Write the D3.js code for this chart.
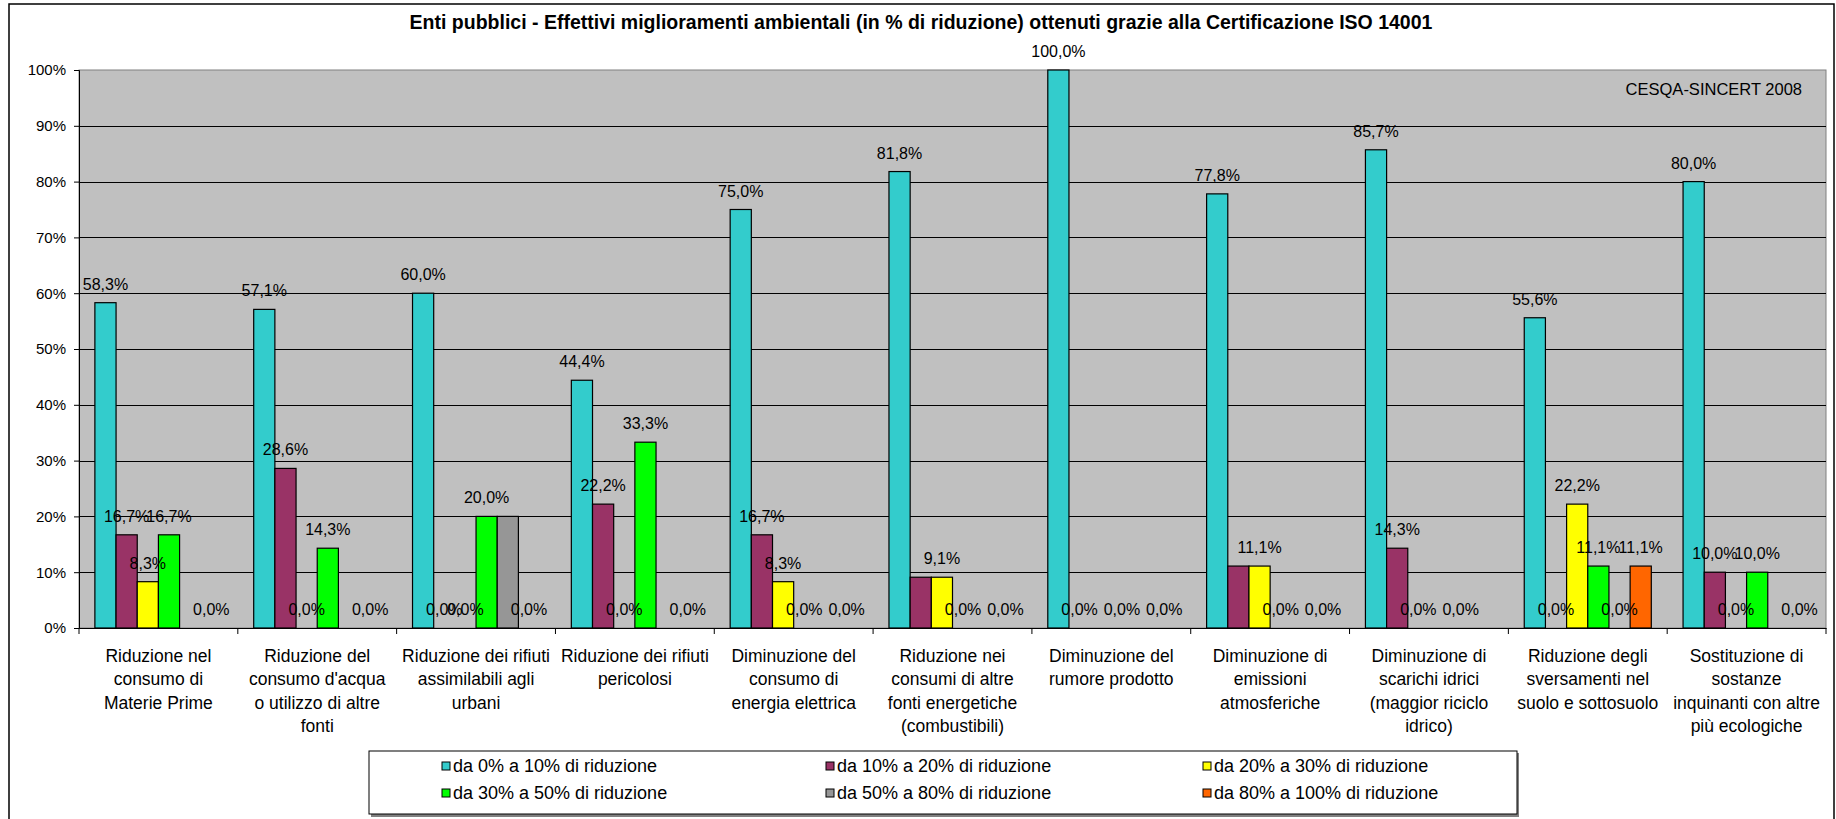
<!DOCTYPE html>
<html>
<head>
<meta charset="utf-8">
<script src="https://cdn.jsdelivr.net/npm/d3@7"></script>
<style>
  html, body { margin: 0; padding: 0; background: #fff; }
  #chart { width: 1836px; height: 819px; }
  text { font-family: "Liberation Sans", Arial, sans-serif; fill: #000; }
</style>
</head>
<body>
<div id="chart"></div>
<script>
// categories (already wrapped as in the original)
const categories = [
  ["Riduzione nel", "consumo di", "Materie Prime"],
  ["Riduzione del", "consumo d'acqua", "o utilizzo di altre", "fonti"],
  ["Riduzione dei rifiuti", "assimilabili agli", "urbani"],
  ["Riduzione dei rifiuti", "pericolosi"],
  ["Diminuzione del", "consumo di", "energia elettrica"],
  ["Riduzione nei", "consumi di altre", "fonti energetiche", "(combustibili)"],
  ["Diminuzione del", "rumore prodotto"],
  ["Diminuzione di", "emissioni", "atmosferiche"],
  ["Diminuzione di", "scarichi idrici", "(maggior riciclo", "idrico)"],
  ["Riduzione degli", "sversamenti nel", "suolo e sottosuolo"],
  ["Sostituzione di", "sostanze", "inquinanti con altre", "più ecologiche"]
];

const seriesNames = [
  "da 0% a 10% di riduzione",
  "da 10% a 20% di riduzione",
  "da 20% a 30% di riduzione",
  "da 30% a 50% di riduzione",
  "da 50% a 80% di riduzione",
  "da 80% a 100% di riduzione"
];
const seriesColors = ["#33CCCC", "#993366", "#FFFF00", "#00FF00", "#969696", "#FF6600"];

// values in %, null = no answer (no bar, no label)
const da0a10   = [58.3, 57.1, 60.0, 44.4, 75.0, 81.8, 100.0, 77.8, 85.7, 55.6, 80.0];
const da10a20  = [16.7, 28.6, 0, 22.2, 16.7, 9.1, 0, 11.1, 14.3, 0, 10.0];
const da20a30  = [8.3, 0, 0, 0, 8.3, 9.1, null, 11.1, 0, 22.2, 0];
const da30a50  = [16.7, 14.3, 20.0, 33.3, 0, 0, 0, 0, null, 11.1, 10.0];
const da50a80  = [null, null, 20.0, null, null, null, null, null, 0, 0, null];
const da80a100 = [0, 0, 0, 0, 0, 0, 0, 0, null, 11.1, 0];
const seriesValues = [da0a10, da10a20, da20a30, da30a50, da50a80, da80a100];

// bars drawn without a value label: [series, category]
const noLabel = [[1, 5], [1, 7], [4, 2]];

const yTicks = [0, 10, 20, 30, 40, 50, 60, 70, 80, 90, 100];

const titleText = "Enti pubblici - Effettivi miglioramenti ambientali (in % di riduzione) ottenuti grazie alla Certificazione ISO 14001";
const sourceText = "CESQA-SINCERT 2008";

/*
  CANVAS
*/
const width = 1836, height = 819;
const plot = {left: 79, right: 1826, top: 70, bottom: 628};

const svg = d3.select("#chart").append("svg")
    .attr("width", width)
    .attr("height", height);

// outer chart frame
svg.append("rect")
    .attr("x", 9).attr("y", 4)
    .attr("width", 1825).attr("height", 830)
    .attr("fill", "#fff")
    .attr("stroke", "#000")
    .attr("stroke-width", 1.5);

svg.append("text")
    .attr("x", 921).attr("y", 29)
    .attr("text-anchor", "middle")
    .style("font-weight", "bold")
    .style("font-size", "19.5px")
    .text(titleText);

/*
  SCALES
*/
const xScale = d3.scaleBand()
    .domain(d3.range(categories.length))
    .range([plot.left, plot.right])
    .paddingInner(0).paddingOuter(0);

const barW = xScale.bandwidth() / 7.5;   // gap width 150%
const xSub = d3.scaleBand()
    .domain(d3.range(seriesNames.length))
    .range([barW * 0.75, xScale.bandwidth() - barW * 0.75]);

const yScale = d3.scaleLinear()
    .domain([0, 100])
    .range([plot.bottom, plot.top]);

// plot background
svg.append("rect")
    .attr("x", plot.left).attr("y", plot.top)
    .attr("width", plot.right - plot.left)
    .attr("height", plot.bottom - plot.top)
    .attr("fill", "#C0C0C0")
    .attr("stroke", "#808080")
    .attr("stroke-width", 1);

// gridlines
svg.append("g")
    .selectAll("line")
    .data(yTicks.filter(d => d > 0 && d < 100))
    .enter().append("line")
    .attr("x1", plot.left).attr("x2", plot.right)
    .attr("y1", d => Math.round(yScale(d)) + 0.5)
    .attr("y2", d => Math.round(yScale(d)) + 0.5)
    .attr("stroke", "#000")
    .attr("stroke-width", 1);

svg.append("text")
    .attr("x", 1802).attr("y", 95)
    .attr("text-anchor", "end")
    .style("font-size", "16.5px")
    .text(sourceText);

/*
  AXES
*/
const yAxis = svg.append("g")
    .attr("transform", `translate(${plot.left},0)`)
    .call(d3.axisLeft(yScale).tickValues(yTicks).tickSize(5).tickPadding(8)
        .tickFormat(d => d + "%"));
yAxis.select(".domain").attr("stroke", "#000");
yAxis.selectAll("text").style("font-size", "15px").attr("font-family", null);

const xAxis = svg.append("g")
    .attr("transform", `translate(0,${plot.bottom})`)
    .call(d3.axisBottom(xScale).tickSize(0).tickFormat(""));
xAxis.select(".domain").attr("stroke", "#000");
xAxis.selectAll(".cat-tick")
    .data(d3.range(categories.length + 1))
    .enter().append("line")
    .attr("x1", i => i < categories.length ? xScale(i) : plot.right)
    .attr("x2", i => i < categories.length ? xScale(i) : plot.right)
    .attr("y1", 0).attr("y2", 6)
    .attr("stroke", "#000");

// category labels
const catLabels = svg.append("g").selectAll("text")
    .data(categories)
    .enter().append("text")
    .attr("text-anchor", "middle")
    .style("font-size", "17.5px")
    .attr("x", (d, i) => xScale(i) + xScale.bandwidth() / 2)
    .attr("y", 662);
catLabels.selectAll("tspan")
    .data(d => d)
    .enter().append("tspan")
    .attr("x", function() { return d3.select(this.parentNode).attr("x"); })
    .attr("dy", (d, i) => i === 0 ? 0 : 23.3)
    .text(d => d);

/*
  BARS
*/
const cells = [];
seriesValues.forEach(function(vals, s) {
    vals.forEach(function(v, c) {
        if (v === null) return;
        const hide = noLabel.some(p => p[0] === s && p[1] === c);
        cells.push({s: s, c: c, v: v, label: !hide});
    });
});

svg.append("g").selectAll("rect")
    .data(cells.filter(d => d.v > 0))
    .enter().append("rect")
    .attr("x", d => xScale(d.c) + xSub(d.s))
    .attr("y", d => yScale(d.v))
    .attr("width", xSub.bandwidth())
    .attr("height", d => yScale(0) - yScale(d.v))
    .attr("fill", d => seriesColors[d.s])
    .attr("stroke", "#000")
    .attr("stroke-width", 1.2);

svg.append("g").selectAll("text")
    .data(cells.filter(d => d.label))
    .enter().append("text")
    .attr("x", d => xScale(d.c) + xSub(d.s) + xSub.bandwidth() / 2)
    .attr("y", d => yScale(d.v) - 13)
    .attr("text-anchor", "middle")
    .style("font-size", "16px")
    .text(d => d.v.toFixed(1).replace(".", ",") + "%");

/*
  LEGEND
*/
const legend = svg.append("g");
legend.append("rect")
    .attr("x", 371).attr("y", 753)
    .attr("width", 1148).attr("height", 64)
    .attr("fill", "#808080");
legend.append("rect")
    .attr("x", 369).attr("y", 751)
    .attr("width", 1148).attr("height", 63)
    .attr("fill", "#fff")
    .attr("stroke", "#000")
    .attr("stroke-width", 1);

const legendCols = [442, 826, 1203];
const legendRows = [766, 793];
const items = legend.selectAll(".item")
    .data(seriesNames)
    .enter().append("g")
    .attr("transform", (d, i) => `translate(${legendCols[i % 3]},${legendRows[Math.floor(i / 3)]})`);
items.append("rect")
    .attr("x", 0).attr("y", -4)
    .attr("width", 8).attr("height", 8)
    .attr("fill", (d, i) => seriesColors[i])
    .attr("stroke", "#000");
items.append("text")
    .attr("x", 11).attr("y", 6)
    .style("font-size", "18px")
    .text(d => d);
</script>
</body>
</html>
